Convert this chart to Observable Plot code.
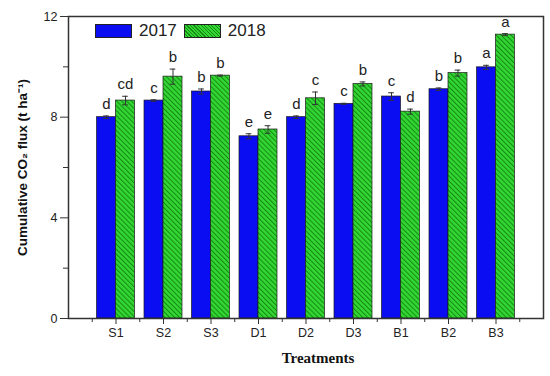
<!DOCTYPE html>
<html>
<head>
<meta charset="utf-8">
<script src="https://cdn.jsdelivr.net/npm/d3@7"></script>
<script src="https://cdn.jsdelivr.net/npm/@observablehq/plot@0.6"></script>
<style>
  html, body { margin: 0; padding: 0; background: #fff; }
  #wrap { position: relative; width: 550px; height: 376px; font-family: "Liberation Sans", Arial, sans-serif; }
  #legend { position: absolute; left: 95px; top: 21px; display: flex; align-items: center; font-size: 17px; color: #222; }
  .sw { width: 37px; height: 14px; border: 1px solid #222; box-sizing: border-box; }
  .lab { margin: 0 7px 0 7px; }
</style>
</head>
<body>
<div id="wrap"></div>
<script>
const treatments = ["S1", "S2", "S3", "D1", "D2", "D3", "B1", "B2", "B3"];
const years = ["2017", "2018"];
const flux2017 = [8.00, 8.66, 9.02, 7.24, 8.00, 8.53, 8.82, 9.11, 9.98];
const err2017  = [0.05, 0.03, 0.10, 0.10, 0.05, 0.02, 0.15, 0.05, 0.08];
const letters2017 = ["d", "c", "b", "e", "d", "c", "c", "b", "a"];
const flux2018 = [8.66, 9.61, 9.65, 7.51, 8.75, 9.32, 8.22, 9.75, 11.28];
const err2018  = [0.17, 0.30, 0.02, 0.15, 0.25, 0.08, 0.10, 0.12, 0.04];
const letters2018 = ["cd", "b", "b", "e", "c", "b", "d", "b", "a"];
const yTicks = [0, 4, 8, 12];
const yMinor = [2, 6, 10];

const blue = "#0a0cf2";
const green = "#33d633";

const rows = [];
treatments.forEach((t, k) => {
  rows.push({t, i: k + 1, year: years[0], off: -0.2, v: flux2017[k], e: err2017[k], L: letters2017[k]});
  rows.push({t, i: k + 1, year: years[1], off: 0.2, v: flux2018[k], e: err2018[k], L: letters2018[k]});
});
const r17 = rows.filter(d => d.year === "2017");
const r18 = rows.filter(d => d.year === "2018");
const xMajor = treatments.map((t, k) => k + 1);
const xMinor = d3.range(0.5, treatments.length + 1, 1);

const chart = Plot.plot({
  width: 550,
  height: 376,
  marginLeft: 68,
  marginRight: 7,
  marginTop: 16,
  marginBottom: 58,
  style: {fontFamily: "Liberation Sans, Arial, sans-serif", fontSize: "12.5px", color: "#222", background: "#fff"},
  x: {type: "linear", domain: [0, treatments.length + 1]},
  y: {domain: [0, 12]},
  marks: [
    Plot.rect(r17, {x1: d => d.i - 0.4, x2: d => d.i, y1: 0, y2: "v", fill: blue, stroke: "#1a1a1a", strokeWidth: 0.7}),
    Plot.rect(r18, {x1: d => d.i, x2: d => d.i + 0.4, y1: 0, y2: "v", fill: green, stroke: "#1a1a1a", strokeWidth: 0.7, className: "hatched"}),
    Plot.ruleX(rows, {x: d => d.i + d.off, y1: d => d.v - d.e, y2: d => d.v + d.e, stroke: "#333", strokeWidth: 1}),
    Plot.ruleY(rows, {y: d => d.v + d.e, x1: d => d.i + d.off - 0.06, x2: d => d.i + d.off + 0.06, stroke: "#333", strokeWidth: 1}),
    Plot.ruleY(rows, {y: d => d.v - d.e, x1: d => d.i + d.off - 0.06, x2: d => d.i + d.off + 0.06, stroke: "#333", strokeWidth: 1}),
    Plot.text(rows, {x: d => d.i + d.off, y: d => d.v + d.e, text: "L", dy: -7, lineAnchor: "bottom", fontSize: 15, fill: "#222"}),
    Plot.axisX(xMajor, {tickSize: 6, tickPadding: 4, tickFormat: d => treatments[d - 1], label: null, stroke: "#333"}),
    Plot.axisX(xMinor, {tickSize: 4, tickFormat: () => "", label: null, stroke: "#333"}),
    Plot.axisY(yTicks, {tickSize: 8, tickPadding: 3, label: null, stroke: "#333"}),
    Plot.axisY(yMinor, {tickSize: 5, tickFormat: () => "", label: null, stroke: "#333"}),
    Plot.frame({stroke: "#333", strokeWidth: 1.5}),
    Plot.text(["Treatments"], {frameAnchor: "bottom", textAnchor: "middle", dy: 44, dx: 12, fontFamily: "Liberation Serif, Times New Roman, serif", fontWeight: "bold", fontSize: 15, fill: "#111"}),
    Plot.text(["Cumulative CO₂ flux (t ha⁻¹)"], {frameAnchor: "left", textAnchor: "middle", rotate: -90, dx: -46, fontWeight: "bold", fontSize: 13.5, fill: "#111"})
  ]
});

// hatch pattern for 2018 bars
const svg = d3.select(chart);
const defs = svg.insert("defs", ":first-child");
const pat = defs.append("pattern").attr("id", "hatch").attr("patternUnits", "userSpaceOnUse")
  .attr("width", 3.5).attr("height", 3.5).attr("patternTransform", "rotate(-45)");
pat.append("rect").attr("width", 3.5).attr("height", 3.5).attr("fill", green);
pat.append("rect").attr("width", 1).attr("height", 3.5).attr("fill", "#148a14");
svg.selectAll(".hatched rect").attr("fill", "url(#hatch)");

const wrap = document.getElementById("wrap");
wrap.appendChild(chart);
const legend = document.createElement("div");
legend.id = "legend";
const hatchCss = `repeating-linear-gradient(45deg, ${green} 0px, ${green} 1.6px, #148a14 1.6px, #148a14 2.5px)`;
legend.innerHTML =
  `<div class="sw" style="background:${blue}"></div><span class="lab">${years[0]}</span>` +
  `<div class="sw" style="background:${hatchCss}"></div><span class="lab">${years[1]}</span>`;
wrap.appendChild(legend);
</script>
</body>
</html>
